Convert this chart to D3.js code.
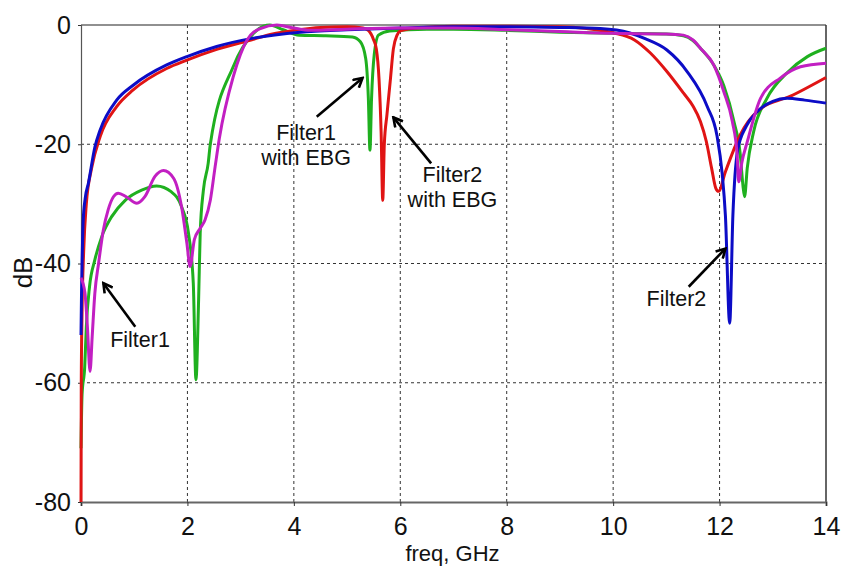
<!DOCTYPE html>
<html>
<head>
<meta charset="utf-8">
<script src="https://cdn.jsdelivr.net/npm/d3@7/dist/d3.min.js"></script>
<style>
  html, body { margin: 0; padding: 0; background: #fff; }
  svg { display: block; }
  text { font-family: "Liberation Sans", Arial, sans-serif; fill: #111; }
</style>
</head>
<body>
<svg id="chart" width="842" height="572"></svg>
<script>
// Frequency response of the two filters, with and without EBG (freq in GHz, level in dB)
const filter2Freq = [0, 0.01, 0.02, 0.04, 0.08, 0.14, 0.26, 0.36, 0.67, 0.98, 1.61, 1.99, 2.55, 3.24, 4.12, 5, 6, 7, 8, 9, 9.76, 10.3, 10.6, 11.01, 11.39, 11.77, 11.95, 12.05, 12.11, 12.19, 12.25, 12.34, 12.5, 12.71, 13.0, 13.27, 13.6, 14];
const filter2dB   = [-52, -45, -40, -33, -29, -26.5, -20.5, -17.6, -12.6, -10.1, -6.7, -5.3, -3.6, -2.2, -1.2, -0.8, -0.5, -0.3, -0.3, -0.4, -0.6, -1.3, -2.3, -4.2, -7.8, -13.7, -18.5, -25, -32, -50, -32, -21, -17, -14.5, -12.8, -12.3, -12.6, -13.1];

const filter2EbgFreq = [0, 0.005, 0.02, 0.05, 0.1, 0.2, 0.36, 0.67, 0.98, 1.61, 1.99, 2.55, 3.24, 3.6, 4.0, 4.5, 5.0, 5.3, 5.4, 5.5, 5.55, 5.6, 5.64, 5.67, 5.7, 5.75, 5.81, 5.87, 5.94, 6.0, 6.3, 7, 8, 9, 9.5, 10, 10.4, 10.7, 11.01, 11.32, 11.5, 11.64, 11.75, 11.85, 11.93, 11.98, 12.11, 12.39, 12.71, 13.39, 14];
const filter2EbgdB   = [-80, -60, -48, -38, -30, -24, -18.7, -13.7, -10.9, -7.3, -5.9, -4.1, -2.4, -1.5, -0.9, -0.4, -0.3, -0.5, -0.9, -2.5, -4, -9, -18, -29.4, -20, -15, -9.5, -4, -1.7, -1.0, -0.5, -0.2, -0.2, -0.3, -0.6, -1.3, -2.5, -4.7, -7.8, -11.4, -13.6, -16.2, -19.5, -24, -27.4, -27.9, -24.6, -18.4, -14.5, -11.7, -8.8];

const filter1Freq = [0, 0.075, 0.12, 0.17, 0.21, 0.26, 0.33, 0.42, 0.51, 0.61, 0.70, 0.85, 1.05, 1.2, 1.39, 1.55, 1.74, 1.89, 1.99, 2.05, 2.13, 2.24, 2.33, 2.43, 2.52, 2.6, 2.86, 3.12, 3.37, 3.68, 3.99, 4.3, 5, 6, 7, 8, 9, 10, 11, 11.32, 11.5, 11.64, 11.89, 12.08, 12.24, 12.33, 12.36, 12.42, 12.52, 12.77, 13.14, 13.52, 14];
const filter1dB   = [-42.4, -45, -50.6, -58.1, -52.3, -45, -40, -34.4, -31, -28.8, -28.2, -28.8, -29.9, -28.8, -25.4, -24.4, -25.7, -30.5, -36.6, -40.5, -36, -34.1, -32.7, -29.4, -23.8, -19, -8.7, -2.5, -0.6, 0, -0.5, -0.9, -0.7, -0.5, -0.5, -0.8, -1.1, -1.4, -1.5, -1.7, -2.5, -3.9, -6.7, -11.2, -16.2, -21.8, -26.3, -23, -19.6, -12.3, -8.9, -7.0, -6.4];

const filter1EbgFreq = [0, 0.02, 0.07, 0.10, 0.16, 0.26, 0.39, 0.58, 0.83, 1.14, 1.42, 1.70, 1.89, 2.02, 2.11, 2.16, 2.21, 2.24, 2.30, 2.39, 2.43, 2.86, 3.24, 3.43, 3.55, 3.8, 4.1, 4.6, 5.1, 5.25, 5.35, 5.40, 5.43, 5.46, 5.51, 5.59, 5.8, 6.5, 7, 8, 9, 10, 11, 11.32, 11.5, 11.64, 11.89, 12.08, 12.27, 12.39, 12.44, 12.47, 12.52, 12.64, 12.89, 13.27, 13.65, 14];
const filter1EbgdB   = [-71, -62, -57.3, -50.6, -43.9, -39.4, -35.5, -32.1, -29.4, -27.7, -27.0, -28.0, -30.5, -34.9, -43.3, -59.5, -46.1, -34.9, -27.7, -23.2, -20, -7, -1.4, -0.2, 0, -0.8, -1.7, -1.8, -2.0, -2.8, -5.6, -12.3, -21, -12.3, -5.0, -1.7, -1.0, -0.7, -0.7, -0.9, -1.2, -1.4, -1.5, -1.8, -2.6, -3.9, -6.7, -10.2, -16.2, -21.8, -27, -28.8, -24, -17.9, -12.3, -8.0, -5.3, -3.9];

const xTicks = [0, 2, 4, 6, 8, 10, 12, 14];
const yTicks = [0, -20, -40, -60, -80];

// Curves listed in drawing order (later ones sit on top)
const series = [
  { name: "Filter1 with EBG", freq: filter1EbgFreq, db: filter1EbgdB, color: "#1fb01f" },
  { name: "Filter2 with EBG", freq: filter2EbgFreq, db: filter2EbgdB, color: "#e01414" },
  { name: "Filter2",          freq: filter2Freq,    db: filter2dB,    color: "#0c0cc6" },
  { name: "Filter1",          freq: filter1Freq,    db: filter1dB,    color: "#c21fc2" }
];

// Callouts: text anchor and arrow tail/tip in data units
const callouts = [
  { lines: ["Filter1"],             at: [1.11, -54.0],  tail: [1.02, -50.6],  tip: [0.42, -43.3] },
  { lines: ["Filter1", "with EBG"], at: [4.23, -19.3],  tail: [4.43, -15.4],  tip: [5.29, -8.9] },
  { lines: ["Filter2", "with EBG"], at: [6.98, -26.35], tail: [6.58, -23.2],  tip: [5.87, -15.5] },
  { lines: ["Filter2"],             at: [11.19, -47.1], tail: [11.42, -43.9], tip: [12.11, -37.5] }
];

const W = 842, H = 572;
const margin = { top: 25, right: 16, bottom: 70, left: 81 };
const svg = d3.select("#chart");

const x = d3.scaleLinear().domain([0, 14]).range([margin.left, W - margin.right]);
const y = d3.scaleLinear().domain([-80, 0]).range([H - margin.bottom, margin.top]);

// Plain hyphen for negative tick values
const tickText = d => String(d);

// Dashed grid
const grid = svg.append("g").attr("stroke", "#333").attr("stroke-width", 1).attr("stroke-dasharray", "3,3");
grid.selectAll("line.v").data(xTicks.slice(1, -1)).join("line")
  .attr("x1", d => x(d)).attr("x2", d => x(d))
  .attr("y1", y(0)).attr("y2", y(-80));
grid.selectAll("line.h").data(yTicks.slice(1, -1)).join("line")
  .attr("y1", d => y(d)).attr("y2", d => y(d))
  .attr("x1", x(0)).attr("x2", x(14));

// Frame
svg.append("line").attr("x1", x(0)).attr("x2", x(14)).attr("y1", y(0)).attr("y2", y(0))
  .attr("stroke", "#222").attr("stroke-width", 1.2);
svg.append("line").attr("x1", x(14)).attr("x2", x(14)).attr("y1", y(0)).attr("y2", y(-80))
  .attr("stroke", "#333").attr("stroke-width", 1.5);

// Axes
const xAxis = d3.axisBottom(x).tickValues(xTicks).tickSize(4).tickPadding(11).tickFormat(tickText);
const yAxis = d3.axisLeft(y).tickValues(yTicks).tickSize(3).tickPadding(7).tickFormat(tickText);

const gx = svg.append("g").attr("transform", `translate(0,${y(-80)})`).call(xAxis);
gx.select(".domain").attr("stroke", "#666").attr("stroke-width", 2);
gx.selectAll(".tick line").attr("stroke", "#333");
gx.selectAll(".tick text").attr("font-size", 25).attr("fill", "#111").attr("font-family", "Liberation Sans, Arial, sans-serif");

const gy = svg.append("g").attr("transform", `translate(${x(0)},0)`).call(yAxis);
gy.select(".domain").attr("stroke", "#555").attr("stroke-width", 1.2);
gy.selectAll(".tick line").attr("stroke", "#333");
gy.selectAll(".tick text").attr("font-size", 25).attr("fill", "#111").attr("font-family", "Liberation Sans, Arial, sans-serif");

// Axis titles
svg.append("text").attr("x", (x(0) + x(14)) / 2 - 1).attr("y", 561)
  .attr("text-anchor", "middle").attr("font-size", 22).text("freq, GHz");
svg.append("text").attr("transform", `translate(32,${y(-41.5)}) rotate(-90)`)
  .attr("text-anchor", "middle").attr("font-size", 26).text("dB");

// Curves
svg.append("clipPath").attr("id", "plot-clip").append("rect")
  .attr("x", x(0) - 2).attr("y", y(0) - 2)
  .attr("width", x(14) - x(0) + 4).attr("height", y(-80) - y(0) + 3);

const line = d3.line().x(d => x(d[0])).y(d => y(d[1])).curve(d3.curveMonotoneX);
const curves = svg.append("g").attr("clip-path", "url(#plot-clip)");
curves.selectAll("path").data(series).join("path")
  .attr("d", s => line(d3.zip(s.freq, s.db)))
  .attr("fill", "none")
  .attr("stroke", s => s.color)
  .attr("stroke-width", 3)
  .attr("stroke-linejoin", "round");

// Callout arrows and labels
svg.append("defs").append("marker")
  .attr("id", "arrowhead").attr("viewBox", "0 0 12 12")
  .attr("refX", 10).attr("refY", 6)
  .attr("markerWidth", 12).attr("markerHeight", 12)
  .attr("markerUnits", "userSpaceOnUse")
  .attr("orient", "auto")
  .append("path").attr("d", "M1,1 L10,6 L1,11")
  .attr("fill", "none").attr("stroke", "#000").attr("stroke-width", 2.6);

const notes = svg.append("g");
notes.selectAll("line").data(callouts).join("line")
  .attr("x1", c => x(c.tail[0])).attr("y1", c => y(c.tail[1]))
  .attr("x2", c => x(c.tip[0])).attr("y2", c => y(c.tip[1]))
  .attr("stroke", "#000").attr("stroke-width", 2.6)
  .attr("marker-end", "url(#arrowhead)");

notes.selectAll("text").data(callouts).join("text")
  .attr("text-anchor", "middle").attr("font-size", 21.5)
  .attr("x", c => x(c.at[0])).attr("y", c => y(c.at[1]))
  .each(function (c) {
    const t = d3.select(this);
    c.lines.forEach((ln, i) => {
      t.append("tspan").attr("x", x(c.at[0])).attr("dy", i === 0 ? 0 : 24.5).text(ln);
    });
  });
</script>
</body>
</html>
